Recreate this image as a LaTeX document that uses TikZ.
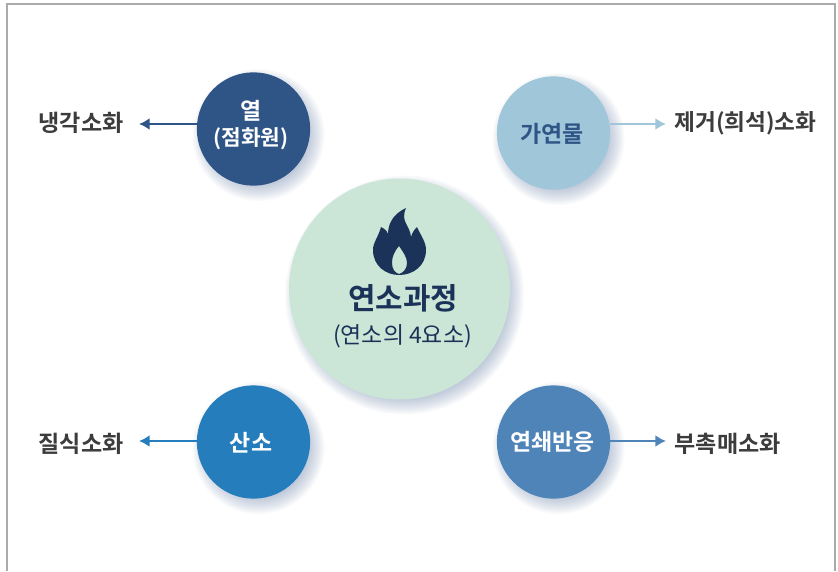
\documentclass[tikz,border=0pt]{standalone}
\usepackage{fontspec}
\setmainfont{Noto Sans CJK KR}
\newfontfamily\krbold{Noto Sans CJK KR Bold}
\definecolor{heat}{HTML}{2F5587}
\definecolor{fuel}{HTML}{A0C6DA}
\definecolor{oxy}{HTML}{257DBB}
\definecolor{chain}{HTML}{4F84B8}
\definecolor{core}{HTML}{CBE5D6}
\definecolor{flame}{HTML}{1B3359}
\definecolor{dark}{HTML}{3C3C3C}
\definecolor{shadowc}{HTML}{5A78A4}
\definecolor{framec}{HTML}{ABABAB}
\newcommand{\softshadow}[3]{%
  \foreach \k in {0,1,...,11}{%
    \fill[shadowc,opacity=0.035] (#1+5,#2+6) circle[radius=#3+9-\k*1.4];
  }}
\usetikzlibrary{arrows.meta}
\tikzset{
  x=0.75pt,y=-0.75pt,
  disc/.style={circle,inner sep=0pt,minimum size=85pt,align=center,text=white,font=\krbold\fontsize{17.2}{21}\selectfont},
  disclabel/.style={inner sep=0pt,align=center,font=\krbold\fontsize{17.2}{21}\selectfont},
  outcome/.style={text=dark,inner sep=0pt,font=\krbold\fontsize{17.3}{20}\selectfont},
  link/.style={line width=1.7pt,-{Latex[length=8pt,width=9pt]}},
}
\begin{document}
\begin{tikzpicture}
\useasboundingbox (0,0) rectangle (838,571);
\fill[white] (0,0) rectangle (838,571);
\draw[framec,line width=1pt] (7,571) -- (7,4) -- (835,4) -- (835,571);
\softshadow{399.5}{289}{110.5}
\softshadow{253.5}{129}{57}
\softshadow{553.5}{133}{57}
\softshadow{253.5}{442}{57}
\softshadow{553.5}{442}{57}
\node[disc,fill=core,minimum size=165.75pt] (c) at (399.5,289) {};
\node[disc,fill=heat] (h) at (253.5,129) {};
\node[disc,fill=fuel] (f) at (553.5,133) {};
\node[disc,fill=oxy] (o) at (253.5,442) {};
\node[disc,fill=chain] (r) at (553.5,442) {};
\node[disclabel,text=white] (hl) at (251,111) {열};
\node[disclabel,text=white,font=\krbold\fontsize{16}{20}\selectfont] (hm) at (251,139) {(점화원)};
\node[disclabel,text=heat] (fl) at (552,134) {가연물};
\node[disclabel,text=white] (ol) at (251,443) {산소};
\node[disclabel,text=white] (rl) at (552.5,442) {연쇄반응};
\node[text=flame,inner sep=0pt,font=\krbold\fontsize{22.4}{24}\selectfont] (t1) at (403,298) {연소과정};
\node[text=flame,inner sep=0pt,font=\fontsize{17.2}{20}\selectfont] (t2) at (402.5,336) {(연소의 4요소)};
\fill[flame,even odd rule]
 (406,208) .. controls (393,214) and (387,224) .. (388,238)
 .. controls (388,232) and (387,230) .. (381,227)
 .. controls (378,238) and (373,242) .. (373,250)
 .. controls (373,266) and (386,275) .. (399,275)
 .. controls (413,275) and (426,266) .. (426,250)
 .. controls (426,242) and (421,236) .. (417,227)
 .. controls (414,230) and (412,233) .. (411,237)
 .. controls (410,225) and (400,222) .. (406,208) -- cycle
 (399,246) .. controls (394,252) and (392,257) .. (392,263)
 .. controls (392,269) and (395,273) .. (399,274)
 .. controls (403,273) and (407,269) .. (407,263)
 .. controls (407,257) and (403,252) .. (399,246) -- cycle;
\node[outcome] (a) at (81,123) {냉각소화};
\node[outcome,font=\krbold\fontsize{17}{20}\selectfont] (b) at (745.5,123) {제거(희석)소화};
\node[outcome] (d) at (81,444) {질식소화};
\node[outcome,anchor=west] (e) at (674.5,444) {부촉매소화};
\coordinate (ae) at (139,124);
\coordinate (be) at (666,124);
\coordinate (de) at (139,441);
\coordinate (ee) at (666,441);
\draw[link,heat] (h.west|-ae) -- (ae);
\draw[link,fuel] (f.east|-be) -- (be);
\draw[link,oxy] (o.west|-de) -- (de);
\draw[link,chain] (r.east|-ee) -- (ee);
\end{tikzpicture}
\end{document}
